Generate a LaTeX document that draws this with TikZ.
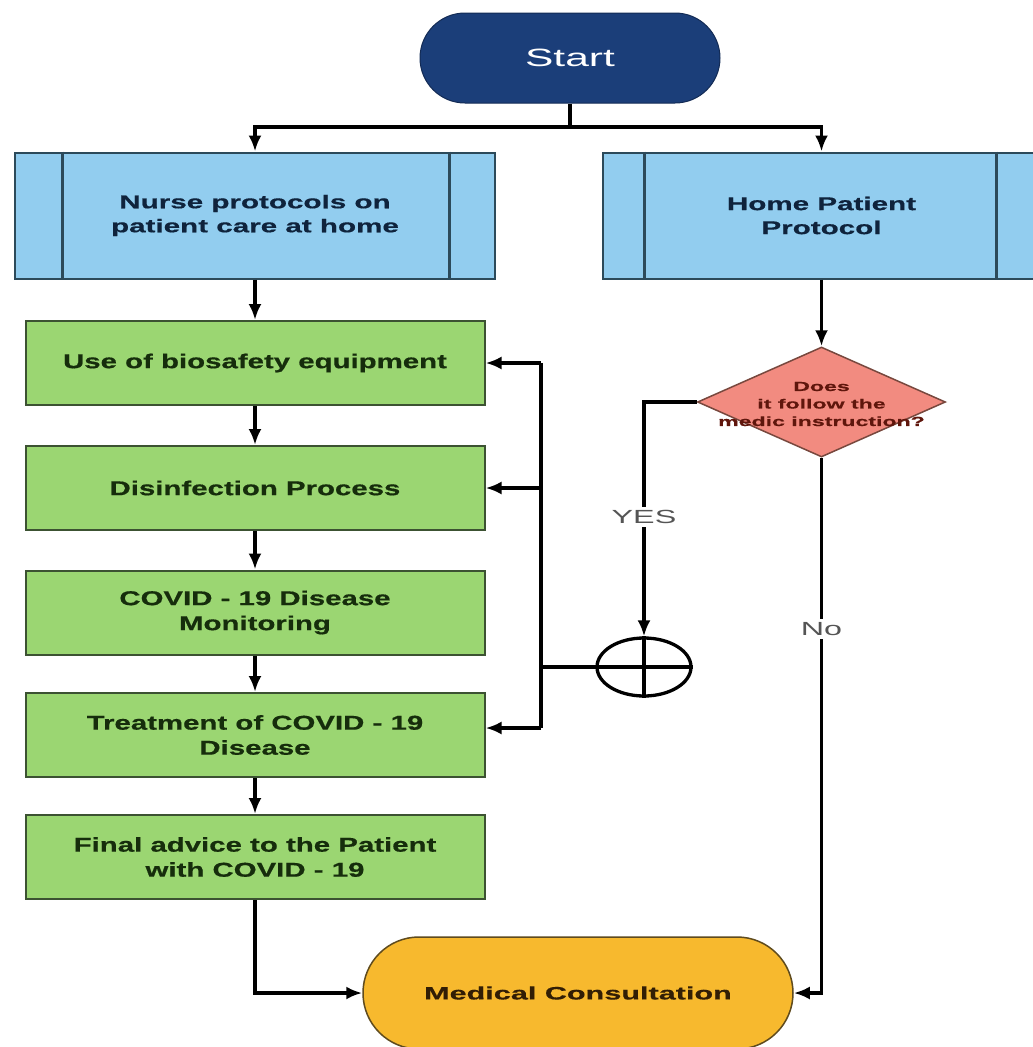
\documentclass[tikz,border=0pt]{standalone}
\usepackage{fontspec}
\setmainfont{Liberation Sans}
\newfontfamily\fgreen{Liberation Sans Bold}[FakeStretch=1.47, FakeBold=0.6]
\newfontfamily\fblue{Liberation Sans Bold}[FakeStretch=1.6, FakeBold=0.6]
\newfontfamily\fdia{Liberation Sans Bold}[FakeStretch=1.75, FakeBold=0.5]
\newfontfamily\fwideb{Liberation Sans Bold}[FakeStretch=1.7, FakeBold=0.5]
\newfontfamily\fwide{Liberation Sans}[FakeStretch=1.7]
\usetikzlibrary{shapes.geometric,arrows.meta}
\definecolor{navyfill}{RGB}{27,62,121}
\definecolor{bluefill}{RGB}{146,205,239}
\definecolor{bluebd}{RGB}{44,74,90}
\definecolor{bluetxt}{RGB}{15,35,60}
\definecolor{greenfill}{RGB}{155,214,114}
\definecolor{greenbd}{RGB}{60,82,50}
\definecolor{greentxt}{RGB}{22,45,12}
\definecolor{diafill}{RGB}{242,139,128}
\definecolor{diabd}{RGB}{120,72,62}
\definecolor{diatxt}{RGB}{95,22,12}
\definecolor{medfill}{RGB}{247,185,46}
\definecolor{medbd}{RGB}{95,75,30}
\definecolor{medtxt}{RGB}{50,30,5}
\definecolor{lblgray}{RGB}{85,85,85}
\tikzset{
  conn/.style={line width=3.3pt, draw=black},
  arr/.style={conn, -{Latex[length=16pt,width=13pt]}},
  startbox/.style={rectangle, rounded corners=45pt, minimum width=300pt, minimum height=90pt,
    fill=navyfill, draw=navyfill!70!black, line width=1pt, text=white, inner sep=0pt,
    font=\fwide\fontsize{25}{30}\selectfont},
  protobox/.style={rectangle, minimum height=126pt, fill=bluefill, draw=bluebd, line width=2pt,
    text=bluetxt, align=center, inner sep=0pt, font=\fblue\fontsize{18.5}{24}\selectfont},
  innerline/.style={draw=bluebd, line width=3pt},
  greenbox/.style={rectangle, minimum width=459pt, minimum height=84pt, fill=greenfill, draw=greenbd,
    line width=2pt, text=greentxt, align=center, inner sep=0pt, font=\fgreen\fontsize{20}{25}\selectfont},
  decision/.style={diamond, minimum width=248pt, minimum height=110pt, inner sep=0pt, fill=diafill,
    draw=diabd, line width=1.5pt},
  diatext/.style={text=diatxt, align=center, inner sep=0pt, font=\fdia\fontsize{13.2}{17.5}\selectfont},
  orgate/.style={ellipse, draw=black, line width=3.3pt, minimum width=94pt, minimum height=58pt, inner sep=0pt},
  medbox/.style={rectangle, rounded corners=56pt, minimum width=430pt, minimum height=112pt, fill=medfill,
    draw=medbd, line width=1.5pt, text=medtxt, inner sep=0pt, font=\fwideb\fontsize{18}{22}\selectfont},
  lbl/.style={fill=white, text=lblgray, inner sep=3pt, font=\fwide\fontsize{19}{22}\selectfont}
}
\begin{document}
\begin{tikzpicture}[x=1pt,y=-1pt]
\clip (0,0) rectangle (1033,1047);
\fill[white] (0,0) rectangle (1033,1047);

% nodes
\node[startbox] (start) at (570,58) {Start};
\node[protobox, minimum width=480pt] (nurse) at (255,215.5) {Nurse protocols on\\patient care at home};
\node[protobox, minimum width=437pt] (home) at (821.5,215.5) {Home Patient\\Protocol};
\draw[innerline] ([xshift=48pt]nurse.north west) -- ([xshift=48pt]nurse.south west);
\draw[innerline] ([xshift=-47pt]nurse.north east) -- ([xshift=-47pt]nurse.south east);
\draw[innerline] ([xshift=42pt]home.north west) -- ([xshift=42pt]home.south west);
\draw[innerline] ([xshift=-45pt]home.north east) -- ([xshift=-45pt]home.south east);

\node[greenbox] (g1) at (255,363) {Use of biosafety equipment};
\node[greenbox] (g2) at (255,488) {Disinfection Process};
\node[greenbox] (g3) at (255,612.5) {COVID - 19 Disease\\Monitoring};
\node[greenbox] (g4) at (255,735) {Treatment of COVID - 19\\Disease};
\node[greenbox] (g5) at (255,857) {Final advice to the Patient\\with COVID - 19};

\node[decision] (dec) at (821.5,402) {};
\node[diatext] (dectext) at ([yshift=-2pt]dec.center) {Does\\it follow the\\medic instruction?};

\node[orgate] (orc) at (644,667) {};
\draw[conn] (orc.north) -- (orc.south);
\draw[conn] (orc.west) -- (orc.east);

\node[medbox] (med) at (578,993) {Medical Consultation};

% connectors
\coordinate (j) at (570,127);
\draw[conn] (start.south) -- (j);
\draw[arr] (j) -| (nurse.north);
\draw[arr] (j) -| (home.north);
\draw[arr] (nurse) -- (g1);
\draw[arr] (g1) -- (g2);
\draw[arr] (g2) -- (g3);
\draw[arr] (g3) -- (g4);
\draw[arr] (g4) -- (g5);
\draw[arr] (g5.south) |- (med.west);
\draw[arr] (home.south) -- (dec.north);
\draw[arr] (dec.west) -| node[lbl, pos=0.745] {YES} (orc.north);
\draw[arr] (dec.south) |- node[lbl, pos=0.16] {No} (med.east);

\coordinate (bt) at (541,363);
\coordinate (b2) at (541,488);
\coordinate (bb) at (541,728);
\coordinate (bm) at (orc.west -| bt);
\draw[conn] (orc.west) -- (bm);
\draw[conn] (bt) -- (bb);
\draw[arr] (bt) -- (g1.east);
\draw[arr] (b2) -- (g2.east);
\draw[arr] (bb) -- (bb -| g4.east);
\end{tikzpicture}
\end{document}
